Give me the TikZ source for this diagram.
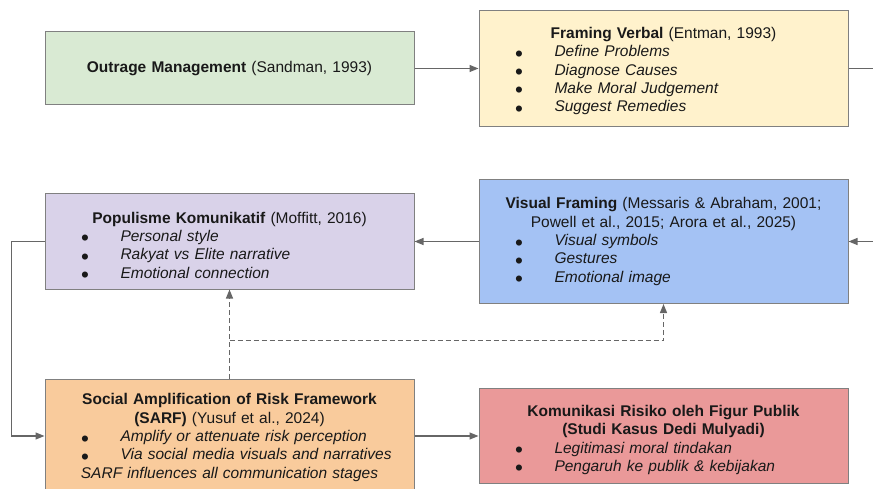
\documentclass[tikz,border=0pt]{standalone}
\usepackage{fontspec}
\setmainfont{Liberation Sans}
\usetikzlibrary{
    positioning,  % For placing the boxes relative to each other
    arrows.meta,  % For the triangle arrow tips
    calc          % For the split point of the dashed lines
}

% bullet line inside a box: dot, then italic text
\newcommand{\bul}[1]{\makebox[367pt][l]{\hspace*{35pt}\makebox[39.5pt][l]{\smash{\raisebox{-4.5pt}{\scalebox{1.45}{\textbullet}}}}\textit{#1}}}

\definecolor{outragegreen}{HTML}{D9EAD3}
\definecolor{framingyellow}{HTML}{FFF2CC}
\definecolor{populispurple}{HTML}{D9D2E9}
\definecolor{visualblue}{HTML}{A4C2F4}
\definecolor{sarforange}{HTML}{F9CB9C}
\definecolor{risikored}{HTML}{EA9999}

\begin{document}
\begin{tikzpicture}[
    x=1pt, y=-1pt,
    % Style for the boxes
    box_style/.style={
        draw=black!50,
        line width=1pt,
        text width=367pt,
        inner xsep=1pt,
        inner ysep=0pt,
        align=center,
        text=black!90,
        font=\fontsize{15.5pt}{18.3pt}\selectfont
    },
    % Pushes the text block a little down (taller first line)
    top_gap/.style={
        execute at begin node={\rule{0pt}{#1}}
    },
    % Style for the solid connectors
    conn_style/.style={
        draw=black!60,
        line width=1.2pt,
        -{Triangle[length=9pt, width=7pt]}
    },
    % Style for the dashed connectors
    dash_style/.style={
        conn_style,
        dash pattern=on 5pt off 3pt
    }
]
    \clip (0,0) rectangle (873,489);

    % 1. Top row
    \node[box_style, fill=outragegreen, minimum height=73pt] (outrage) at (229.5,68.5)
        {\textbf{Outrage Management} (Sandman, 1993)};
    \node[box_style, top_gap=16.3pt, fill=framingyellow, minimum height=116pt, right=64pt of outrage] (framing)
        {\textbf{Framing Verbal} (Entman, 1993)\\
         \bul{Define Problems}\\
         \bul{Diagnose Causes}\\
         \bul{Make Moral Judgement}\\
         \bul{Suggest Remedies}};

    % 2. Middle row
    \node[box_style, top_gap=18.3pt, fill=populispurple, minimum height=95pt, below=88pt of outrage] (populis)
        {\textbf{Populisme Komunikatif} (Moffitt, 2016)\\
         \bul{Personal style}\\
         \bul{Rakyat vs Elite narrative}\\
         \bul{Emotional connection}};
    \node[box_style, fill=visualblue, minimum height=124pt, right=64pt of populis] (visual)
        {\textbf{Visual Framing} (Messaris \& Abraham, 2001;\\
         Powell et al., 2015; Arora et al., 2025)\\
         \bul{Visual symbols}\\
         \bul{Gestures}\\
         \bul{Emotional image}};

    % 3. Bottom row
    \node[box_style, top_gap=14.3pt, fill=sarforange, minimum height=114pt, below=89pt of populis] (sarf)
        {\textbf{Social Amplification of Risk Framework}\\
         \textbf{(SARF)} (Yusuf et al., 2024)\\
         \bul{Amplify or attenuate risk perception}\\
         \bul{Via social media visuals and narratives}\\
         \textit{SARF influences all communication stages}};
    \node[box_style, top_gap=19.3pt, fill=risikored, minimum height=95pt, right=64pt of sarf] (risiko)
        {\textbf{Komunikasi Risiko oleh Figur Publik}\\
         \textbf{(Studi Kasus Dedi Mulyadi)}\\
         \bul{Legitimasi moral tindakan}\\
         \bul{Pengaruh ke publik \& kebijakan}};

    % 4. Solid connectors
    \draw[conn_style] (outrage) -- (framing);
    \draw[conn_style] (framing.east) -- ++(40,0) |- (visual.east);
    \draw[conn_style] (visual) -- (populis);
    \draw[conn_style] (populis.west) -- ++(-33,0) |- (sarf.west);
    \draw[conn_style] (sarf) -- (risiko);

    % 5. Dashed connectors from SARF
    \coordinate (split) at ($(sarf.north)+(0,-38)$);
    \draw[dash_style] (sarf.north) -- (populis.south);
    \draw[dash_style] (split) -| (visual.south);

\end{tikzpicture}
\end{document}
